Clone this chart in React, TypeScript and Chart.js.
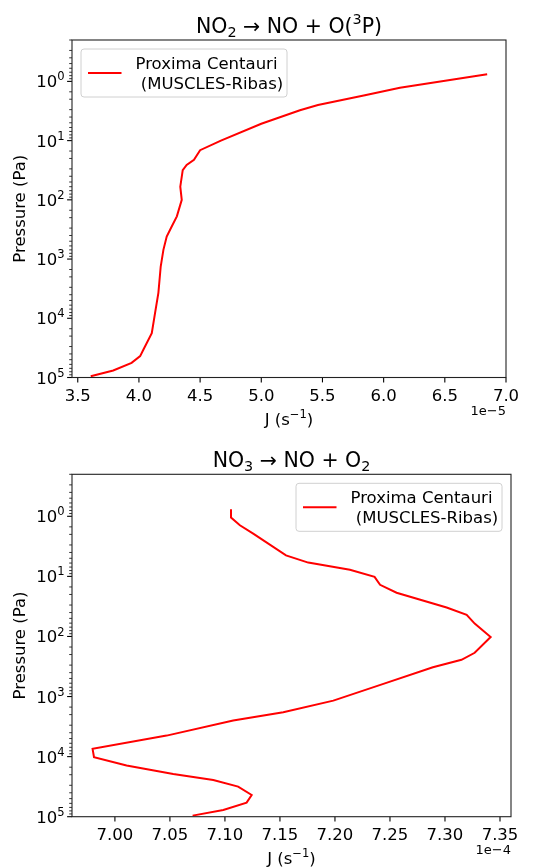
import React, { useEffect, useRef } from 'react';
import { Chart, registerables } from 'chart.js';

Chart.register(...registerables);

// ---------- DATA ----------
// Top panel: NO2 -> NO + O(3P); J in units of 1e-5 s^-1, pressure in Pa
const PRESSURE_NO2 = [0.76, 1.28, 1.72, 2.5, 3.08, 5.2, 10, 14.5, 21, 25.7, 31.6, 60, 100, 190, 282, 417, 700, 1337, 3720, 8130, 17800, 34000, 43600, 56500, 76000, 95000];
const J_NO2 = [6.846, 6.133, 5.847, 5.463, 5.316, 5.0, 4.67, 4.5, 4.45, 4.39, 4.358, 4.338, 4.35, 4.31, 4.268, 4.227, 4.2, 4.178, 4.159, 4.132, 4.105, 4.036, 4.01, 3.94, 3.79, 3.606];

// Bottom panel: NO3 -> NO + O2; J in units of 1e-4 s^-1, pressure in Pa
const PRESSURE_NO3 = [0.76, 1.05, 1.41, 1.94, 4.47, 5.9, 7.75, 10.2, 13.8, 18.7, 33, 43.5, 61, 102, 187, 245, 326, 616, 1170, 1820, 2500, 4470, 7420, 10200, 14100, 19400, 24500, 31600, 43500, 58400, 77500, 96000];
const J_NO3 = [7.1055, 7.1055, 7.1136, 7.1257, 7.1555, 7.1757, 7.2136, 7.236, 7.241, 7.256, 7.3015, 7.3197, 7.327, 7.3415, 7.327, 7.315, 7.289, 7.244, 7.1985, 7.153, 7.1075, 7.047, 6.9797, 6.981, 7.0106, 7.053, 7.0894, 7.112, 7.1243, 7.1197, 7.0985, 7.0706];

const Y_TICK_EXPONENTS = ['0', '1', '2', '3', '4', '5'];
const LEGEND_LINES = ['Proxima Centauri', ' (MUSCLES-Ribas)'];
const SERIES_NAME = 'Proxima Centauri (MUSCLES-Ribas)';

const FONT = '"DejaVu Sans", "Liberation Sans", sans-serif';

type Seg = { t: string; s?: 'sub' | 'sup' };

function drawRich(ctx: CanvasRenderingContext2D, segs: Seg[], x: number, y: number, size: number, align: 'center' | 'left' | 'right') {
  const fontOf = (sz: number) => `${sz}px ${FONT}`;
  const widths = segs.map((seg) => {
    ctx.font = fontOf(seg.s ? size * 0.7 : size);
    return ctx.measureText(seg.t).width;
  });
  const total = widths.reduce((a, b) => a + b, 0);
  let cx = align === 'center' ? x - total / 2 : align === 'right' ? x - total : x;
  ctx.textAlign = 'left';
  ctx.textBaseline = 'alphabetic';
  segs.forEach((seg, i) => {
    ctx.font = fontOf(seg.s ? size * 0.7 : size);
    const dy = seg.s === 'sub' ? size * 0.2 : seg.s === 'sup' ? -size * 0.42 : 0;
    ctx.fillText(seg.t, cx, y + dy);
    cx += widths[i];
  });
}

interface PanelSpec {
  pressure: number[];
  j: number[];
  title: Seg[];
  xLabel: Seg[];
  offset: string;
  xMin: number;
  xMax: number;
  xStep: number;
  xDecimals: number;
  yMin: number;
  yMax: number;
  area: { left: number; top: number; right: number; bottom: number };
  width: number;
  height: number;
  legendLeft: boolean;
}

const PANELS: PanelSpec[] = [
  {
    pressure: PRESSURE_NO2,
    j: J_NO2,
    title: [{ t: 'NO' }, { t: '2', s: 'sub' }, { t: ' → NO + O(' }, { t: '3', s: 'sup' }, { t: 'P)' }],
    xLabel: [{ t: 'J (s' }, { t: '−1', s: 'sup' }, { t: ')' }],
    offset: '1e−5',
    xMin: 3.453,
    xMax: 7.0,
    xStep: 0.5,
    xDecimals: 1,
    yMin: 0.2,
    yMax: 1e5,
    area: { left: 72, top: 40, right: 506, bottom: 377.5 },
    width: 547,
    height: 434,
    legendLeft: true,
  },
  {
    pressure: PRESSURE_NO3,
    j: J_NO3,
    title: [{ t: 'NO' }, { t: '3', s: 'sub' }, { t: ' → NO + O' }, { t: '2', s: 'sub' }],
    xLabel: [{ t: 'J (s' }, { t: '−1', s: 'sup' }, { t: ')' }],
    offset: '1e−4',
    xMin: 6.961,
    xMax: 7.36,
    xStep: 0.05,
    xDecimals: 2,
    yMin: 0.2,
    yMax: 1e5,
    area: { left: 72, top: 40.3, right: 511, bottom: 382.7 },
    width: 547,
    height: 433,
    legendLeft: false,
  },
];

const isPow10 = (v: number) => {
  const l = Math.log10(v);
  return Math.abs(l - Math.round(l)) < 1e-9;
};

function makeDecorPlugin(spec: PanelSpec) {
  return {
    id: 'decor',
    afterDraw(chart: any) {
      const ctx: CanvasRenderingContext2D = chart.ctx;
      const a = chart.chartArea;
      const xs = chart.scales.x;
      const ys = chart.scales.y;
      ctx.save();
      ctx.strokeStyle = '#000';
      ctx.fillStyle = '#000';
      // y ticks (major + minor) and major labels
      for (const t of ys.ticks) {
        const py = ys.getPixelForValue(t.value);
        const major = isPow10(t.value);
        const len = major ? 4.9 : 2.8;
        ctx.lineWidth = major ? 1.1 : 0.8;
        ctx.strokeStyle = '#000';
        ctx.beginPath();
        ctx.moveTo(a.left - len, py);
        ctx.lineTo(a.left, py);
        ctx.stroke();
        if (major) {
          const k = Math.round(Math.log10(t.value));
          const exp = Y_TICK_EXPONENTS[k];
          if (exp !== undefined) {
            ctx.fillStyle = '#000';
            drawRich(ctx, [{ t: '10' }, { t: exp, s: 'sup' }], a.left - 7.5, py + 6, 16.5, 'right');
          }
        }
      }
      // x ticks
      for (const t of xs.ticks) {
        const px = xs.getPixelForValue(t.value);
        ctx.lineWidth = 1.1;
        ctx.beginPath();
        ctx.moveTo(px, a.bottom);
        ctx.lineTo(px, a.bottom + 4.9);
        ctx.stroke();
      }
      // frame
      ctx.lineWidth = 1.1;
      ctx.strokeStyle = '#222';
      ctx.strokeRect(a.left, a.top, a.right - a.left, a.bottom - a.top);

      // title
      ctx.fillStyle = '#000';
      drawRich(ctx, spec.title, (a.left + a.right) / 2, a.top - 7.5, 20.5, 'center');
      // x label
      drawRich(ctx, spec.xLabel, (a.left + a.right) / 2, a.bottom + 47.5, 16.5, 'center');
      // offset text
      ctx.font = `13px ${FONT}`;
      ctx.textAlign = 'right';
      ctx.textBaseline = 'alphabetic';
      ctx.fillText(spec.offset, a.right, a.bottom + 37);
      // y label
      ctx.save();
      ctx.translate(25, (a.top + a.bottom) / 2);
      ctx.rotate(-Math.PI / 2);
      ctx.font = `16.5px ${FONT}`;
      ctx.textAlign = 'center';
      ctx.textBaseline = 'alphabetic';
      ctx.fillText('Pressure (Pa)', 0, 0);
      ctx.restore();

      // legend
      const lw = 206;
      const lh = 48;
      const pad = 9;
      const x0 = spec.legendLeft ? a.left + pad : a.right - pad - lw;
      const y0 = a.top + pad;
      ctx.beginPath();
      if ((ctx as any).roundRect) (ctx as any).roundRect(x0, y0, lw, lh, 3);
      else ctx.rect(x0, y0, lw, lh);
      ctx.fillStyle = 'rgba(255,255,255,0.8)';
      ctx.fill();
      ctx.strokeStyle = '#d0d0d0';
      ctx.lineWidth = 1;
      ctx.stroke();
      const ds = chart.data.datasets[0];
      ctx.strokeStyle = ds.borderColor;
      ctx.lineWidth = 2;
      ctx.beginPath();
      ctx.moveTo(x0 + 7, y0 + lh / 2);
      ctx.lineTo(x0 + 40.5, y0 + lh / 2);
      ctx.stroke();
      ctx.fillStyle = '#000';
      ctx.font = `16.5px ${FONT}`;
      ctx.textAlign = 'left';
      ctx.textBaseline = 'alphabetic';
      LEGEND_LINES.forEach((line, i) => {
        ctx.fillText(line, x0 + 54.5, y0 + 19.5 + i * 20);
      });
      ctx.restore();
    },
  };
}

function Panel({ spec, top }: { spec: PanelSpec; top: number }) {
  const ref = useRef<HTMLCanvasElement | null>(null);
  useEffect(() => {
    if (!ref.current) return;
    const a = spec.area;
    const chart = new Chart(ref.current, {
      type: 'line',
      data: {
        datasets: [
          {
            label: SERIES_NAME,
            data: spec.pressure.map((p, i) => ({ x: spec.j[i], y: p })),
            borderColor: '#ff0000',
            borderWidth: 2,
            pointRadius: 0,
            tension: 0,
            fill: false,
          },
        ],
      },
      options: {
        animation: false,
        responsive: false,
        maintainAspectRatio: false,
        devicePixelRatio: 1,
        layout: {
          padding: { left: 0, top: a.top, right: spec.width - a.right, bottom: 0 },
        },
        plugins: {
          legend: { display: false },
          title: { display: false },
          tooltip: { enabled: false },
        },
        scales: {
          x: {
            type: 'linear',
            min: spec.xMin,
            max: spec.xMax,
            grid: { display: false, drawTicks: false },
            border: { display: false },
            ticks: {
              stepSize: spec.xStep,
              includeBounds: false,
              autoSkip: false,
              maxRotation: 0,
              padding: 9,
              color: '#000',
              font: { family: FONT, size: 16.5 },
              callback: (v: any) => Number(v).toFixed(spec.xDecimals),
            },
            afterFit: (s: any) => {
              s.height = spec.height - a.bottom;
            },
          },
          y: {
            type: 'logarithmic',
            reverse: true,
            min: spec.yMin,
            max: spec.yMax,
            grid: { display: false, drawTicks: false },
            border: { display: false },
            ticks: {
              display: false,
              autoSkip: false,
            },
            afterFit: (s: any) => {
              s.width = a.left;
            },
          },
        },
      } as any,
      plugins: [makeDecorPlugin(spec)],
    });
    return () => chart.destroy();
  }, [spec]);
  return (
    <canvas
      ref={ref}
      width={spec.width}
      height={spec.height}
      style={{ position: 'absolute', left: 0, top, width: spec.width, height: spec.height }}
    />
  );
}

export default function App() {
  return (
    <div style={{ position: 'absolute', left: 0, top: 0, width: 547, height: 867, background: '#fff', overflow: 'hidden' }}>
      <Panel spec={PANELS[0]} top={0} />
      <Panel spec={PANELS[1]} top={434} />
    </div>
  );
}
